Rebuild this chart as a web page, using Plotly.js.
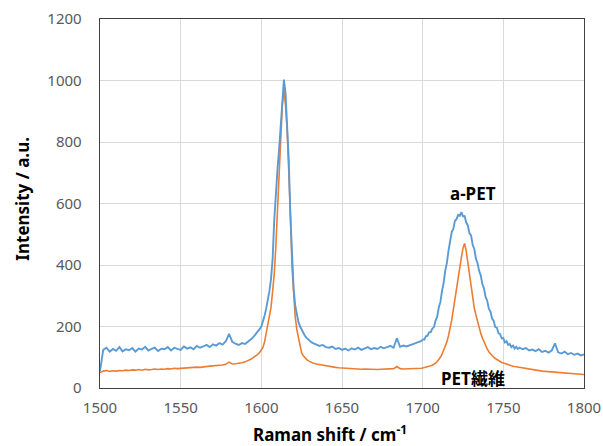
<!DOCTYPE html>
<html>
<head>
<meta charset="utf-8">
<script src="https://cdn.plot.ly/plotly-3.0.1.min.js"></script>
<style>html,body{margin:0;padding:0;background:#fff;}#chart{width:603px;height:446px;}</style>
</head>
<body>
<div id="chart"></div>
<script>
// Raman shift (cm-1)
const ramanShift = [
1500,1502,1504,1506,1508,1510,1512,1514,1516,1518,1520,1522,1524,1526,1528,1530,1532,1534,1536,1538,1540,1542,1544,1546,1548,1550,1552,1554,1556,1558,1560,1562,1564,1566,1568,1570,1572,1574,1576,1578,1580,1582,1584,1586,1588,1590,1592,1594,1596,
1597,1598,1599,1600,1601,1602,1603,1604,1605,1606,1607,1608,1609,1610,1611,1612,1613,1614,1615,1616,1617,1618,1619,1620,1621,1622,1623,1624,1625,1626,1627,1628,1629,1630,1631,1632,
1634,1636,1638,1640,1642,1644,1646,1648,1650,1652,1654,1656,1658,1660,1662,1664,1666,1668,1670,1672,1674,1676,1678,1680,1682,1684,1686,1688,1690,1692,1694,1696,1698,
1699,1700,1701,1702,1703,1704,1705,1706,1707,1708,1709,1710,1711,1712,1713,1714,1715,1716,1717,1718,1719,1720,1721,1722,1723,1724,1725,1726,1727,1728,1729,1730,1731,1732,1733,1734,1735,1736,1737,1738,1739,1740,1741,1742,1743,1744,1745,1746,1747,1748,1749,1750,1751,1752,1753,1754,1755,1756,1757,1758,1759,1760,
1762,1764,1766,1768,1770,1772,1774,1776,1778,1780,1782,1784,1786,1788,1790,1792,1794,1796,1798,1800
];

// a-PET intensity (blue)
const aPET = [
55,124,131,118,127,121,133,119,126,123,130,118,128,125,134,122,127,131,120,128,126,133,122,131,127,124,135,128,132,126,137,131,135,140,133,142,138,146,141,152,176,150,144,140,146,143,152,160,172,
178,185,192,200,215,235,258,285,315,355,420,545,640,710,775,850,935,1003,958,860,741,560,440,325,268,237,215,200,188,178,170,163,158,152,149,146,
142,137,140,133,131,135,127,130,124,128,122,129,125,131,124,128,133,126,130,127,134,129,132,137,131,162,134,138,135,140,143,147,150,
152,158,157,168,170,181,182,193,198,219,232,262,280,316,342,382,407,446,472,507,517,544,549,563,560,572,558,559,538,529,503,496,466,452,421,406,381,366,338,324,296,284,258,249,226,219,198,196,178,176,161,162,148,152,140,143,133,138,128,134,127,131,
126,130,122,125,120,126,117,121,115,122,145,116,112,118,110,114,108,112,106,109
];

// PET fiber intensity (orange)
const petFiber = [
50,55,57,54,56,55,57,56,58,57,59,58,60,58,61,59,60,62,60,62,61,63,62,64,63,64,65,64,66,67,68,67,69,70,71,72,72,74,75,77,84,78,79,80,82,85,89,95,103,
106,110,116,124,132,150,180,210,232,262,315,370,460,585,720,830,920,968,920,840,720,570,395,290,232,190,160,130,114,105,98,93,89,86,83,81,
78,76,73,72,70,68,67,66,65,64,64,63,62,62,61,62,61,60,61,60,61,61,62,61,63,70,63,62,62,62,63,63,64,
64,65,66,67,69,70,72,74,77,81,86,92,100,110,122,135,150,170,194,221,255,292,329,362,395,425,455,470,445,410,360,325,290,260,238,215,195,178,163,150,138,127,118,111,105,100,96,92,89,86,83,81,79,77,75,74,72,71,70,69,68,67,
65,63,62,60,58,57,55,54,53,52,51,50,49,48,47,47,46,45,45,44
];

const xTicks = [1500,1550,1600,1650,1700,1750,1800];
const yTicks = [0,200,400,600,800,1000,1200];
const seriesLabels = ['a-PET','PET繊維'];

const FONT = '"Noto Sans", "Noto Sans CJK JP", sans-serif';
const traces = [
  {x: ramanShift, y: petFiber, type: 'scatter', mode: 'lines', name: seriesLabels[1],
   line: {color: '#ED7D31', width: 1.6}},
  {x: ramanShift, y: aPET, type: 'scatter', mode: 'lines', name: seriesLabels[0],
   line: {color: '#5B9BD5', width: 1.9}}
];

const layout = {
  width: 603, height: 446,
  margin: {l: 100, r: 19, t: 19, b: 58},
  paper_bgcolor: '#ffffff', plot_bgcolor: '#ffffff',
  showlegend: false,
  font: {family: FONT, color: '#595959', size: 15},
  xaxis: {
    range: [1500, 1800], tickvals: xTicks, ticktext: xTicks.map(String),
    showgrid: true, gridcolor: '#d9d9d9', gridwidth: 1, zeroline: false,
    showline: true, linecolor: '#404040', linewidth: 1.3, mirror: true,
    ticks: '', ticklabelstandoff: 6,
    tickfont: {family: FONT, size: 15, color: '#595959'}
  },
  yaxis: {
    range: [0, 1200], tickvals: yTicks, ticktext: yTicks.map(String),
    showgrid: true, gridcolor: '#d9d9d9', gridwidth: 1, zeroline: false,
    showline: true, linecolor: '#404040', linewidth: 1.3, mirror: true,
    ticks: '', ticklabelstandoff: 14,
    tickfont: {family: FONT, size: 15, color: '#595959'}
  },
  annotations: [
    {xref: 'paper', yref: 'paper', x: 0.475, y: -0.124, text: 'Raman shift / cm<sup>-1</sup>',
     showarrow: false, xanchor: 'center', yanchor: 'middle',
     font: {family: FONT, size: 17, color: '#000000', weight: 'bold'}},
    {xref: 'paper', yref: 'paper', x: -0.162, y: 0.512, text: 'Intensity / a.u.',
     showarrow: false, textangle: -90, xanchor: 'center', yanchor: 'middle',
     font: {family: FONT, size: 17, color: '#000000', weight: 'bold'}},
    {xref: 'x', yref: 'y', x: 1731, y: 634, text: '<b>a-PET</b>', showarrow: false,
     xanchor: 'center', yanchor: 'middle', font: {family: FONT, size: 17, color: '#000000'}},
    {xref: 'x', yref: 'y', x: 1731.5, y: 32, text: '<b>PET繊維</b>', showarrow: false,
     xanchor: 'center', yanchor: 'middle', font: {family: FONT, size: 17, color: '#000000'}}
  ]
};

Plotly.newPlot('chart', traces, layout, {displayModeBar: false, staticPlot: true});
</script>
</body>
</html>
